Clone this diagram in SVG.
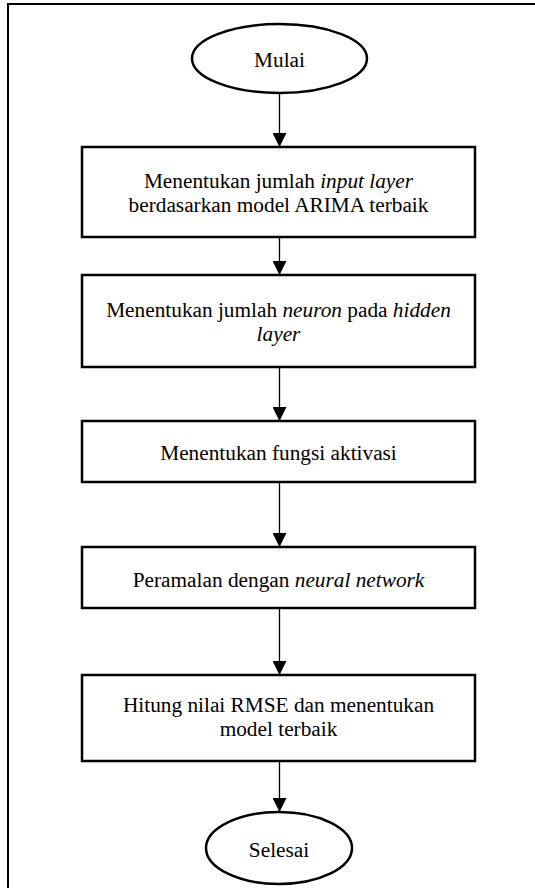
<svg xmlns="http://www.w3.org/2000/svg" width="535" height="888" viewBox="0 0 535 888">
<style>
.frame{fill:none;stroke:#000;stroke-width:2}
.node{fill:#fff;stroke:#000;stroke-width:2.5}
text{font-family:'Liberation Serif','Times New Roman',Tinos,'DejaVu Serif',serif;font-size:21.3px;fill:#000;text-anchor:middle}
.i{font-style:italic}
.c{stroke:#000;stroke-width:1.3;fill:none}
</style>
<defs>
<marker id="ah" markerUnits="userSpaceOnUse" markerWidth="14" markerHeight="14" refX="14" refY="7" orient="auto" viewBox="0 0 14 14">
<path d="M0,0 L14,7 L0,14 Z" fill="#000"/>
</marker>
</defs>
<rect x="0" y="0" width="535" height="888" fill="#fff"/>
<rect class="frame" x="8" y="4" width="560" height="900"/>
<g id="connectors">
<line class="c" x1="279.5" y1="93" x2="279.5" y2="147" marker-end="url(#ah)"/>
<line class="c" x1="279.5" y1="237" x2="279.5" y2="275" marker-end="url(#ah)"/>
<line class="c" x1="279.5" y1="358" x2="279.5" y2="421" marker-end="url(#ah)"/>
<line class="c" x1="279.5" y1="482" x2="279.5" y2="547" marker-end="url(#ah)"/>
<line class="c" x1="279.5" y1="608" x2="279.5" y2="675" marker-end="url(#ah)"/>
<line class="c" x1="279.5" y1="761" x2="279.5" y2="812" marker-end="url(#ah)"/>
</g>
<g id="start">
<ellipse class="node" cx="279.5" cy="58.5" rx="87.5" ry="34.5"/>
<text font-family="Liberation Serif, serif" x="279.5" y="66.5">Mulai</text>
</g>
<g id="step1">
<rect class="node" x="82" y="147" width="393" height="90"/>
<text font-family="Liberation Serif, serif" x="278.5" y="188">Menentukan jumlah <tspan class="i">input layer</tspan></text>
<text font-family="Liberation Serif, serif" x="278.5" y="212">berdasarkan model ARIMA terbaik</text>
</g>
<g id="step2">
<rect class="node" x="82" y="275" width="393" height="92"/>
<text font-family="Liberation Serif, serif" x="278.5" y="316.5">Menentukan jumlah <tspan class="i">neuron</tspan> pada <tspan class="i">hidden</tspan></text>
<text font-family="Liberation Serif, serif" class="i" x="278.5" y="340.5">layer</text>
</g>
<g id="step3">
<rect class="node" x="82" y="421" width="393" height="61"/>
<text font-family="Liberation Serif, serif" x="278.5" y="460">Menentukan fungsi aktivasi</text>
</g>
<g id="step4">
<rect class="node" x="82" y="547" width="393" height="61"/>
<text font-family="Liberation Serif, serif" x="278.5" y="586.5">Peramalan dengan <tspan class="i">neural network</tspan></text>
</g>
<g id="step5">
<rect class="node" x="82" y="675" width="393" height="86"/>
<text font-family="Liberation Serif, serif" x="278.5" y="712">Hitung nilai RMSE dan menentukan</text>
<text font-family="Liberation Serif, serif" x="278.5" y="736">model terbaik</text>
</g>
<g id="end">
<ellipse class="node" cx="279" cy="848" rx="73" ry="36"/>
<text font-family="Liberation Serif, serif" x="279" y="857">Selesai</text>
</g>
</svg>
